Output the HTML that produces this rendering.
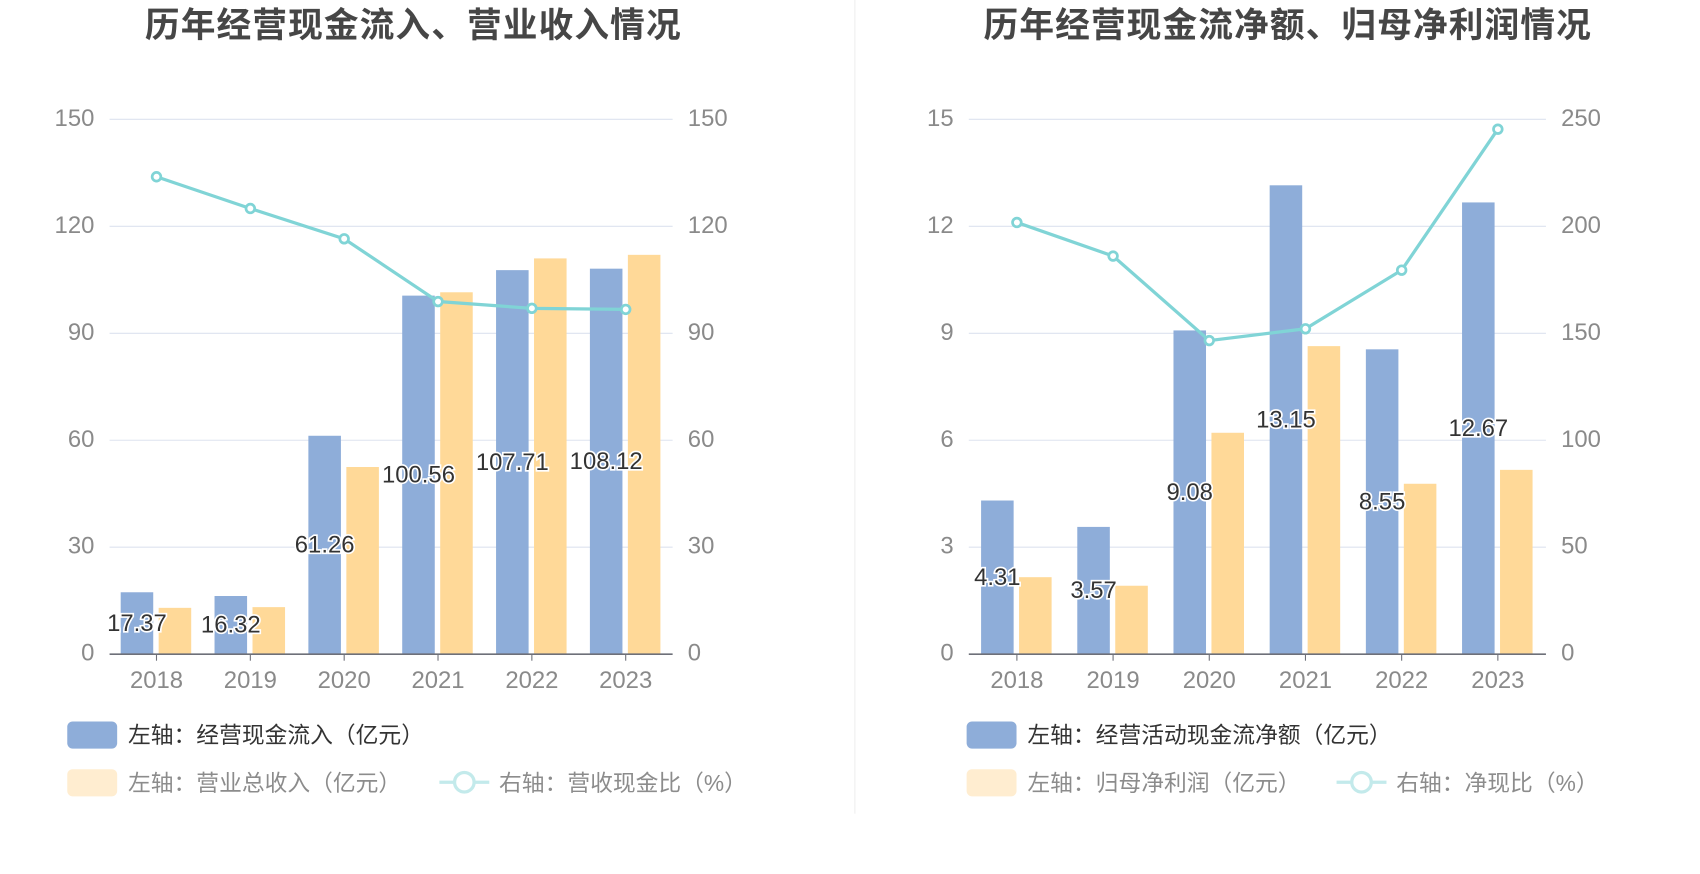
<!DOCTYPE html>
<html><head><meta charset="utf-8"><style>
html,body{margin:0;padding:0;background:#fff;}
svg{display:block;font-family:"Liberation Sans","Noto Sans CJK SC",sans-serif;}
</style></head><body>
<svg id="root" width="1700" height="874" viewBox="0 0 1567 805.6" preserveAspectRatio="none">
<line x1="788" y1="0" x2="788" y2="750" stroke="#eeeeee" stroke-width="1"/>
<g id="c1"></g>
<g id="c2"></g>
</svg>
<script>
const years = ["2018","2019","2020","2021","2022","2023"];
const inflow = [17.37,16.32,61.26,100.56,107.71,108.12];
const revenue = [13.0,13.2,52.5,101.5,111.0,112.0];
const cashRatio = [133.9,125.0,116.5,98.9,97.0,96.7];
const leftTicks1 = [0,30,60,90,120,150];
const rightTicks1 = [0,30,60,90,120,150];
const netCash = [4.31,3.57,9.08,13.15,8.55,12.67];
const netProfit = [2.16,1.92,6.21,8.64,4.78,5.17];
const netRatio = [201.8,186.1,146.6,152.1,179.5,245.4];
const leftTicks2 = [0,3,6,9,12,15];
const rightTicks2 = [0,50,100,150,200,250];

const NS="http://www.w3.org/2000/svg";
function mk(parent,tag,attrs,text){const e=document.createElementNS(NS,tag);for(const k in attrs)e.setAttribute(k,attrs[k]);if(text!==undefined)e.textContent=text;parent.appendChild(e);return e;}

function draw(g,cfg){
  const x0=cfg.x0,x1=cfg.x1,yB=603,yT=110;
  const lMax=cfg.lt[cfg.lt.length-1], rMax=cfg.rt[cfg.rt.length-1];
  const yL=v=>yB-(v/lMax)*(yB-yT);
  const yR=v=>yB-(v/rMax)*(yB-yT);
  const band=(x1-x0)/years.length;
  const xc=i=>x0+band*(i+0.5);
  let t=mk(g,'text',{x:cfg.tx,y:34,'text-anchor':'middle','font-size':32,'font-weight':'bold',fill:'#464646','letter-spacing':'1'},cfg.title);
  
  
  cfg.lt.forEach((v,i)=>{
    const y=yL(v);
    if(i>0){const l=mk(g,'line',{x1:x0,y1:y,x2:x1,y2:y,stroke:'#dde3ef','stroke-width':1});
      
      }
    const a=mk(g,'text',{x:x0-14,y:y+6,'text-anchor':'end','font-size':22,fill:'#8a8a8a'},String(v));
    
    
  });
  cfg.rt.forEach(v=>{
    const a=mk(g,'text',{x:x1+14,y:yR(v)+6,'text-anchor':'start','font-size':22,fill:'#8a8a8a'},String(v));
    
    
  });
  years.forEach((yr,i)=>{
    const c=xc(i);
    const b=mk(g,'rect',{x:c-33,y:yL(cfg.a[i]),width:30,height:yB-yL(cfg.a[i]),fill:'#8eadd9'});
    
    
    const o=mk(g,'rect',{x:c+2,y:yL(cfg.b[i]),width:30,height:yB-yL(cfg.b[i]),fill:'#ffd998'});
    
    
    const tk=mk(g,'line',{x1:c,y1:yB,x2:c,y2:yB+6,stroke:'#6e7079','stroke-width':1});
    
    
    const xl=mk(g,'text',{x:c,y:yB+31,'text-anchor':'middle','font-size':22,fill:'#8a8a8a'},yr);
    
    
  });
  const ax=mk(g,'line',{x1:x0,y1:yB,x2:x1,y2:yB,stroke:'#6e7079','stroke-width':1.5});
  
  
  const pts=cfg.r.map((v,i)=>xc(i)+','+yR(v)).join(' ');
  const pl=mk(g,'polyline',{points:pts,fill:'none',stroke:'#80d4d6','stroke-width':3});
  
  
  cfg.r.forEach((v,i)=>{
    const p=mk(g,'circle',{cx:xc(i),cy:yR(v),r:4,fill:'#fff',stroke:'#80d4d6','stroke-width':2.5});
    
    
  });
  cfg.a.forEach((v,i)=>{
    const ym=(yL(v)+yB)/2;
    const lb=mk(g,'text',{x:xc(i)-18,y:ym+7,'text-anchor':'middle','font-size':22,fill:'#333',stroke:'#fff','stroke-width':3,'paint-order':'stroke'},v.toFixed(2));
    
    
  });
  const L=cfg.lx;
  let r1=mk(g,'rect',{x:L,y:665,width:46,height:25,rx:5,fill:'#8eadd9'});
  
  
  let t1=mk(g,'text',{x:L+56,y:685,'font-size':21,fill:'#333'},cfg.la);
  
  
  let r2=mk(g,'rect',{x:L,y:709,width:46,height:25,rx:5,fill:'#ffedd0'});
  
  
  let t2=mk(g,'text',{x:L+56,y:729,'font-size':21,fill:'#8c8c8c'},cfg.lb);
  
  
  let ll=mk(g,'line',{x1:cfg.lr,y1:721,x2:cfg.lr+46,y2:721,stroke:'#c3eaeb','stroke-width':3});
  
  
  let lc=mk(g,'circle',{cx:cfg.lr+23,cy:721,r:9,fill:'#fff',stroke:'#c3eaeb','stroke-width':3});
  
  
  let t3=mk(g,'text',{x:cfg.lr+55,y:729,'font-size':21,fill:'#8c8c8c'},cfg.lc);
  
  
}
draw(document.getElementById('c1'),{x0:101,x1:620,tx:381,title:'历年经营现金流入、营业收入情况',lt:leftTicks1,rt:rightTicks1,a:inflow,b:revenue,r:cashRatio,an:'inflow',bn:'revenue',lx:62,lr:405,la:'左轴：经营现金流入（亿元）',lb:'左轴：营业总收入（亿元）',lc:'右轴：营收现金比（%）'});
draw(document.getElementById('c2'),{x0:893,x1:1425,tx:1187,title:'历年经营现金流净额、归母净利润情况',lt:leftTicks2,rt:rightTicks2,a:netCash,b:netProfit,r:netRatio,an:'net-cash',bn:'net-profit',lx:891,lr:1232,la:'左轴：经营活动现金流净额（亿元）',lb:'左轴：归母净利润（亿元）',lc:'右轴：净现比（%）'});
</script>
</body></html>
